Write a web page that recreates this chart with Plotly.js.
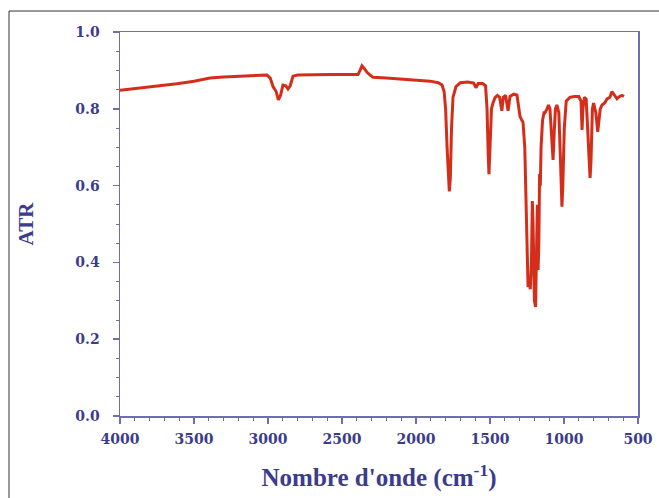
<!DOCTYPE html>
<html>
<head>
<meta charset="utf-8">
<script src="https://cdn.plot.ly/plotly-3.0.1.min.js"></script>
<style>html,body{margin:0;padding:0;background:#fff;}#chart{width:659px;height:498px;}</style>
</head>
<body>
<div id="chart"></div>
<script>
const wavenumber = [4000,3900,3800,3700,3615,3500,3392,3300,3169,3050,3007,2985,2966,2945,2930,2915,2899,2880,2865,2850,2831,2800,2700,2581,2450,2392,2378,2365,2350,2331,2310,2290,2200,2100,2000,1905,1850,1824,1810,1800,1790,1780,1775,1768,1760,1750,1730,1700,1650,1610,1595,1580,1550,1530,1520,1512,1507,1500,1490,1480,1465,1450,1435,1420,1410,1395,1378,1365,1340,1318,1305,1297,1285,1277,1265,1255,1248,1243,1235,1228,1220,1214,1209,1200,1192,1186,1180,1175,1170,1165,1160,1155,1145,1135,1128,1115,1105,1095,1085,1074,1066,1058,1048,1035,1025,1018,1014,1008,998,985,960,930,900,885,878,872,862,850,840,830,824,818,808,800,785,772,765,755,743,725,709,690,676,660,642,625,608,595];
const atr = [0.848,0.852,0.856,0.860,0.865,0.872,0.880,0.883,0.886,0.888,0.888,0.880,0.858,0.845,0.823,0.835,0.862,0.860,0.852,0.860,0.885,0.888,0.889,0.889,0.889,0.889,0.900,0.912,0.905,0.895,0.888,0.882,0.880,0.877,0.874,0.872,0.868,0.862,0.845,0.80,0.70,0.60,0.585,0.62,0.75,0.83,0.858,0.868,0.870,0.867,0.855,0.866,0.866,0.860,0.80,0.68,0.63,0.70,0.80,0.815,0.83,0.835,0.83,0.795,0.83,0.835,0.795,0.832,0.838,0.836,0.80,0.78,0.77,0.765,0.70,0.55,0.40,0.336,0.35,0.33,0.40,0.56,0.50,0.30,0.284,0.40,0.55,0.38,0.45,0.63,0.60,0.70,0.77,0.79,0.79,0.80,0.81,0.80,0.74,0.667,0.74,0.80,0.81,0.79,0.68,0.56,0.545,0.60,0.75,0.82,0.83,0.832,0.832,0.82,0.745,0.80,0.83,0.825,0.74,0.64,0.62,0.66,0.80,0.815,0.79,0.74,0.76,0.80,0.81,0.815,0.826,0.83,0.845,0.835,0.826,0.832,0.835,0.832];
const xTicks = [4000,3500,3000,2500,2000,1500,1000,500];
const yTicks = [0.0,0.2,0.4,0.6,0.8,1.0];

const axisCol = '#6e6eb0';
const textCol = '#3c3c8c';
const tickFont = {family:'DejaVu Serif', size:14, color:textCol, weight:'bold'};

const trace = {
  x: wavenumber, y: atr, type:'scatter', mode:'lines',
  line:{color:'#d42e1b', width:3},
  hoverinfo:'skip'
};

const layout = {
  width:659, height:498,
  margin:{l:120, r:21, t:32, b:82},
  paper_bgcolor:'#ffffff', plot_bgcolor:'#ffffff',
  showlegend:false,
  font:{family:'Liberation Serif', color:textCol},
  xaxis:{
    range:[4000,500], autorange:false,
    tickvals:xTicks, ticktext:xTicks.map(String),
    ticks:'outside', ticklen:6, tickwidth:1.5, tickcolor:axisCol,
    minor:{dtick:100, tick0:0, ticks:'outside', ticklen:3, tickcolor:axisCol, tickwidth:1},
    showline:true, linecolor:axisCol, linewidth:1.5, mirror:true,
    showgrid:false, zeroline:false,
    tickfont:tickFont, ticklabelstandoff:4,
    title:{text:"Nombre d'onde (cm<sup>-1</sup>)", font:{family:'Liberation Serif', size:25, color:textCol, weight:'bold'}, standoff:22}
  },
  yaxis:{
    range:[0,1], autorange:false,
    tickvals:yTicks, ticktext:yTicks.map(v=>v.toFixed(1)),
    ticks:'outside', ticklen:6, tickwidth:1.5, tickcolor:axisCol,
    minor:{dtick:0.05, tick0:0, ticks:'outside', ticklen:3, tickcolor:axisCol, tickwidth:1},
    showline:true, linecolor:axisCol, linewidth:1.5, mirror:true,
    showgrid:false, zeroline:false,
    tickfont:tickFont, ticklabelstandoff:10,
    title:{text:'ATR', font:{family:'Liberation Serif', size:21, color:textCol, weight:'bold'}, standoff:36}
  },
  shapes:[{
    type:'rect', xref:'paper', yref:'paper',
    x0:(9-120)/518, x1:(700-120)/518, y0:(416-520)/384, y1:(416-11)/384,
    line:{color:'#333333', width:1}, fillcolor:'rgba(0,0,0,0)', layer:'below'
  }]
};

Plotly.newPlot('chart',[trace],layout,{staticPlot:true, displayModeBar:false});
</script>
</body>
</html>
